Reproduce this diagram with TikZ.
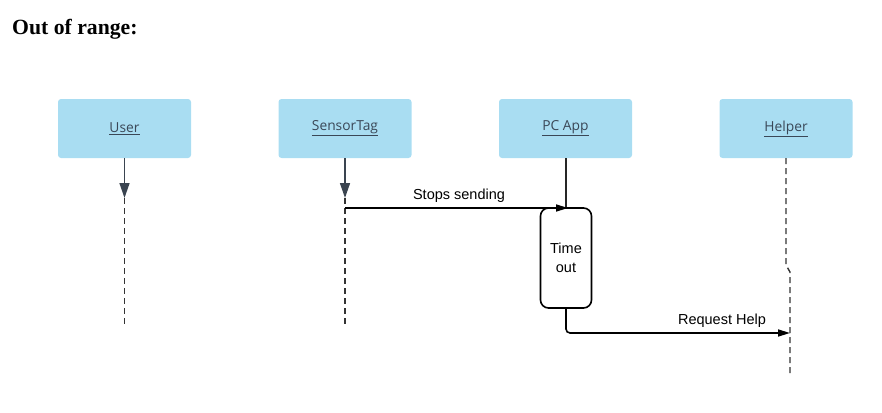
\documentclass[tikz,border=0pt]{standalone}
\usepackage{fontspec}
\setmainfont{Liberation Serif}
\newfontfamily\lblfont{Liberation Sans}
\newfontfamily\boxfont{Open Sans}
\usetikzlibrary{arrows.meta,positioning}
\definecolor{boxblue}{HTML}{A9DDF2}
\definecolor{boxtext}{HTML}{3A4757}
\definecolor{lifegray}{HTML}{3A4450}
\begin{document}
\begin{tikzpicture}[x=1pt,y=-1pt,
  actor/.style={draw=none,fill=boxblue,rounded corners=3pt,minimum width=133pt,minimum height=59pt,inner sep=0pt,font=\boxfont\fontsize{13.8}{16}\selectfont,text=boxtext},
  lifearrow/.style={draw=lifegray,line width=1.5pt,-{Triangle[length=15pt,width=10pt]}},
  lifeline/.style={draw=black!80,line width=1.4pt,dash pattern=on 6pt off 4pt},
  msg/.style={draw=black,line width=1.6pt,-{Triangle[length=12pt,width=7pt]}},
  msglabel/.style={font=\lblfont\fontsize{14.5}{17}\selectfont,text=black,inner sep=0pt},
  activation/.style={draw=black,line width=1.6pt,rounded corners=8pt,minimum width=51pt,minimum height=100pt,inner sep=0pt,align=center,font=\lblfont\fontsize{14.5}{19}\selectfont}
]
\useasboundingbox (0,0) rectangle (882,412);
\node[anchor=base west,font=\bfseries\fontsize{21.7}{24}\selectfont,inner sep=0pt] (title) at (12,35) {Out of range:};

\node[actor] (user) at (124.5,128.5) {\underline{User}};
\node[actor] (sensor) at (345,128.5) {\underline{SensorTag}};
\node[actor] (pcapp) at (565.5,128.5) {\underline{PC App}};
\node[actor] (helper) at (786,128.5) {\underline{Helper}};

% User lifeline
\coordinate (uarr) at (124.5,198);
\coordinate (uend) at (124.5,325);
\draw[lifearrow] (user.south) -- (uarr);
\draw[lifeline] (uarr) -- (uend);

% SensorTag lifeline
\coordinate (sarr) at (345,198);
\coordinate (send) at (345,325);
\draw[lifearrow] (sensor.south) -- (sarr);
\draw[lifeline] (sarr) -- (send);

% PC App
\node[activation] (timeout) at (566,258) {Time\\out};
\draw[draw=black!85,line width=1.3pt] (pcapp.south -| timeout.north) -- (timeout.north);

% Helper lifeline
\coordinate (h1) at (786,265);
\coordinate (h2) at (790,272);
\coordinate (hmsg) at (790,333);
\coordinate (hend) at (790,375);
\draw[lifeline] (helper.south) -- (h1) -- (h2) -- (hend);

% Messages
\coordinate (stopstart) at (345,208);
\coordinate (stopend) at (568,208);
\draw[msg] (stopstart) -- (stopend);
\node[msglabel,anchor=base] (stoplbl) at (459,199) {Stops sending};

\draw[msg,rounded corners=4pt] (timeout.south) |- (hmsg);
\node[msglabel,anchor=base] (reqlbl) at (722,324) {Request Help};
\end{tikzpicture}
\end{document}
